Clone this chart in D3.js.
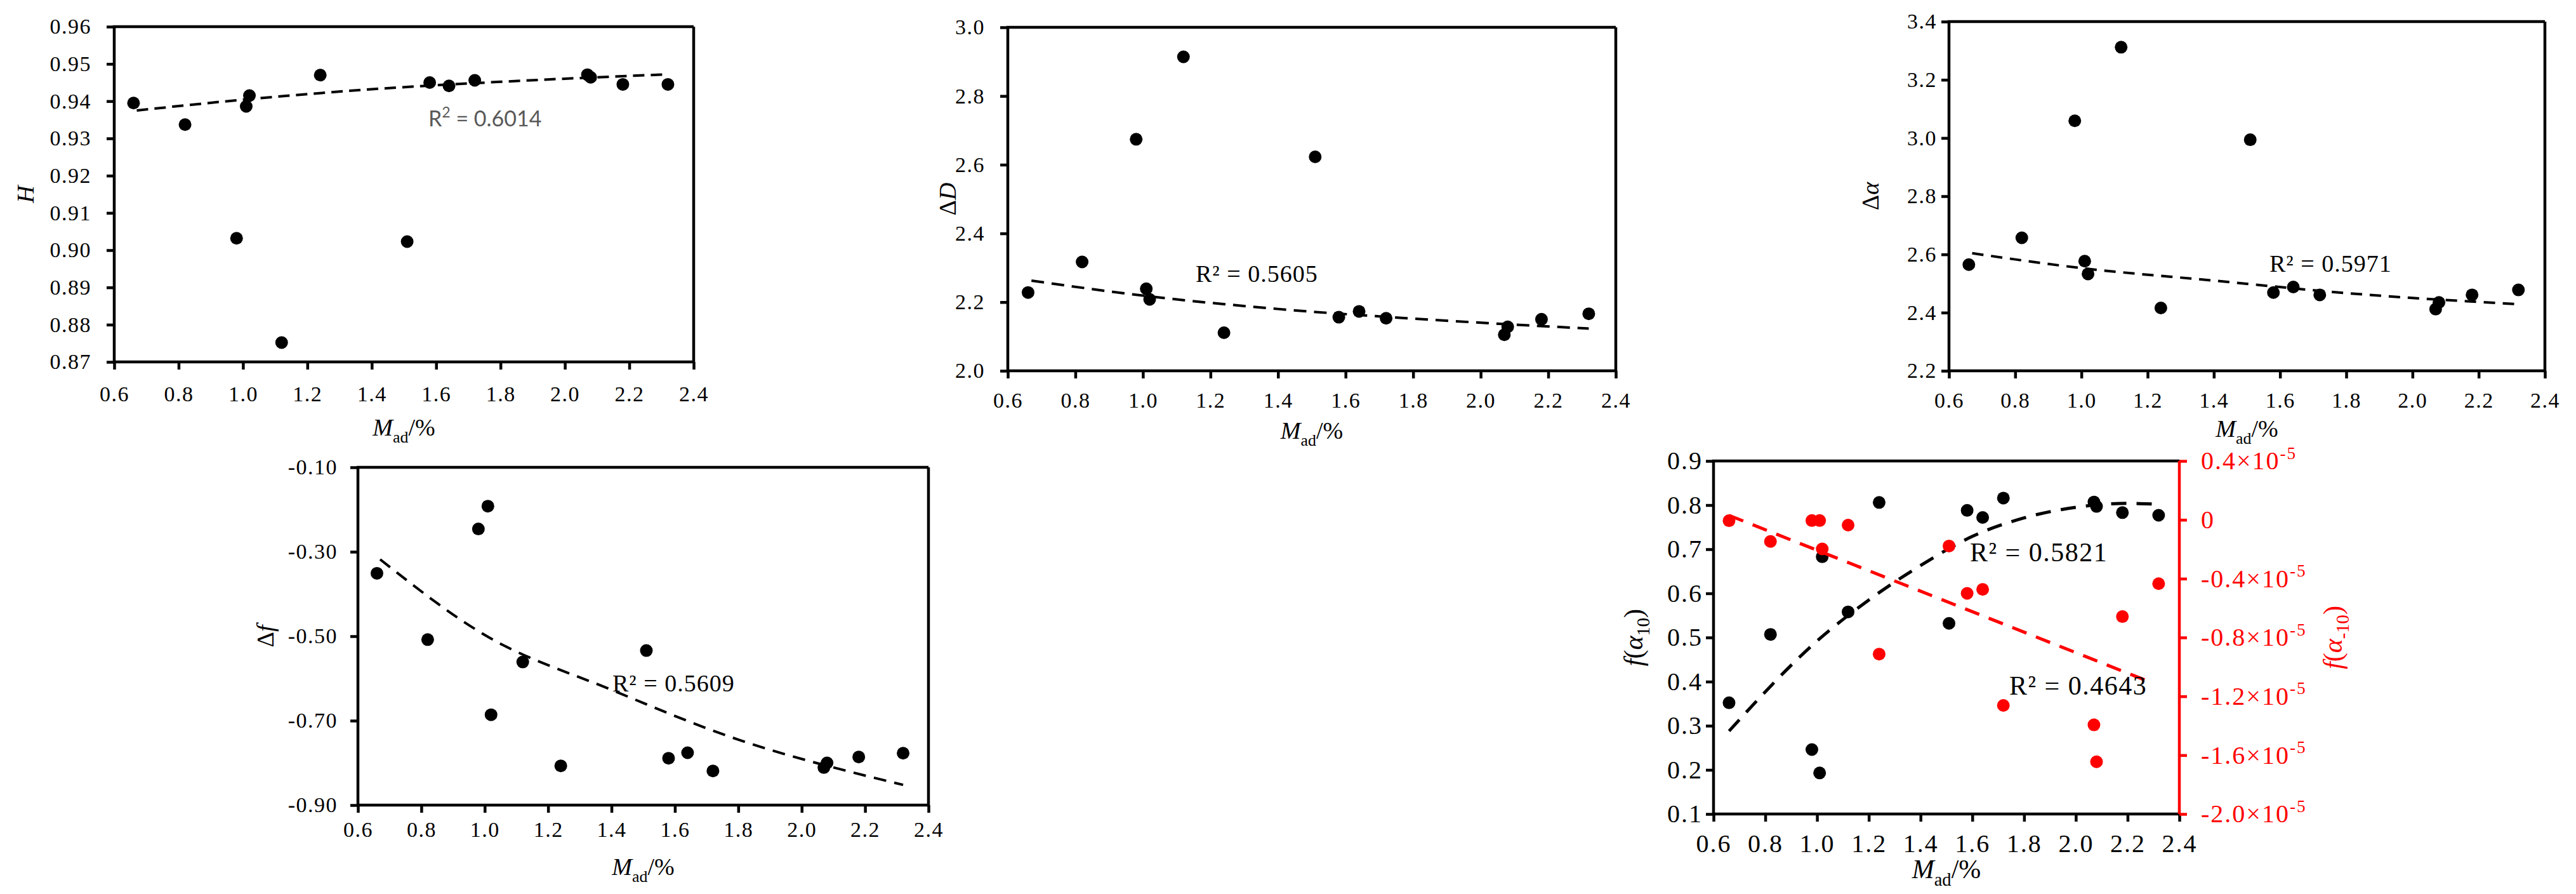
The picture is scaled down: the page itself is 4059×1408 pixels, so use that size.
<!DOCTYPE html>
<html>
<head>
<meta charset="utf-8">
<script src="https://cdn.jsdelivr.net/npm/d3@7"></script>
<style>
  body { margin: 0; background: #fff; }
  svg { display: block; font-family: "Times New Roman", "Liberation Serif", serif; }
</style>
</head>
<body>
<div id="chart"></div>
<script>
const W = 4059, H = 1408;
const SERIF = "'Times New Roman', 'Liberation Serif', serif";

// M_ad (%) of the 15 samples, shared by every panel
const mad = [0.66, 0.82, 0.98, 1.01, 1.02, 1.12, 1.24, 1.51, 1.58, 1.64, 1.72, 2.07, 2.08, 2.18, 2.32];
const hurst = [0.9395, 0.9337, 0.9032, 0.9386, 0.9415, 0.8752, 0.9470, 0.9023, 0.9450, 0.9441, 0.9456, 0.9471, 0.9464, 0.9445, 0.9445];
const deltaD = [2.228, 2.317, 2.674, 2.239, 2.208, 2.914, 2.111, 2.623, 2.156, 2.173, 2.153, 2.105, 2.128, 2.150, 2.166];
const deltaAlpha = [2.565, 2.657, 3.059, 2.577, 2.533, 3.312, 2.416, 2.994, 2.469, 2.488, 2.461, 2.412, 2.435, 2.461, 2.478];
const deltaF = [-0.351, -0.508, -0.246, -0.192, -0.686, -0.561, -0.807, -0.534, -0.789, -0.776, -0.819, -0.811, -0.800, -0.786, -0.777];
const fAlpha10 = [0.352, 0.507, 0.246, 0.193, 0.683, 0.558, 0.806, 0.532, 0.788, 0.772, 0.816, 0.807, 0.797, 0.783, 0.777];
// f(alpha_-10), in units of 1e-5
const fAlphaNeg10 = [-0.006, -0.147, -0.005, -0.005, -0.198, -0.036, -0.913, -0.178, -0.500, -0.473, -1.262, -1.394, -1.645, -0.658, -0.434];

// trend lines
const trendX = [0.67, 1.0, 1.4, 1.8, 2.32];
const trendH = [0.9375, 0.9404, 0.9432, 0.9452, 0.9472];
const trendD = [2.2625, 2.219, 2.180, 2.152, 2.123];
const trendAlpha = [2.604, 2.553, 2.510, 2.467, 2.429];
const trendFX = [0.67, 1.0, 1.4, 1.8, 2.2, 2.32];
const trendF = [-0.318, -0.497, -0.627, -0.745, -0.830, -0.852];
const trendFa10X = [0.66, 1.0, 1.2, 1.4, 1.6, 1.8, 2.0, 2.2, 2.31];
const trendFa10 = [0.288, 0.492, 0.585, 0.663, 0.729, 0.771, 0.795, 0.804, 0.802];
const trendFaNegX = [0.66, 2.29];
const trendFaNeg = [0.03, -1.105];

// ticks
const xTicks = [0.6, 0.8, 1.0, 1.2, 1.4, 1.6, 1.8, 2.0, 2.2, 2.4];
const hTicks = [0.87, 0.88, 0.89, 0.90, 0.91, 0.92, 0.93, 0.94, 0.95, 0.96];
const dTicks = [2.0, 2.2, 2.4, 2.6, 2.8, 3.0];
const alphaTicks = [2.2, 2.4, 2.6, 2.8, 3.0, 3.2, 3.4];
const fTicks = [-0.90, -0.70, -0.50, -0.30, -0.10];
const fa10Ticks = [0.1, 0.2, 0.3, 0.4, 0.5, 0.6, 0.7, 0.8, 0.9];
const faNegTicks = [-2.0, -1.6, -1.2, -0.8, -0.4, 0, 0.4];

const r2Texts = ["0.6014", "0.5605", "0.5971", "0.5609", "0.5821", "0.4643"];

const RED = "#ff0000";
const LW = 4.5;

const svg = d3.select("#chart").append("svg")
  .attr("width", W)
  .attr("height", H);
svg.append("rect").attr("width", W).attr("height", H).attr("fill", "#fff");

const f1 = v => v.toFixed(1);
const f2 = v => v.toFixed(2);

// text made of pieces: {t, i: italic, sub, sup}
function rich(sel, parts, size) {
  let shift = 0;
  parts.forEach(p => {
    const s = p.sub ? size * 0.28 : p.sup ? -size * 0.42 : 0;
    const t = sel.append("tspan").text(p.t);
    if (s !== shift) t.attr("dy", s - shift);
    if (p.i) t.attr("font-style", "italic");
    if (p.sub || p.sup) t.attr("font-size", size * 0.68);
    shift = s;
  });
  return sel;
}

const madLabel = [{ t: "M", i: true }, { t: "ad", sub: true }, { t: "/%" }];

function panel(c) {
  const g = svg.append("g");
  const x = d3.scaleLinear().domain([0.6, 2.4]).range([c.left, c.right]);
  const y = d3.scaleLinear().domain(c.yDomain).range([c.bottom, c.top]);

  const xa = g.append("g")
    .attr("transform", "translate(0," + c.bottom + ")")
    .call(d3.axisBottom(x).tickValues(xTicks).tickFormat(f1).tickSize(12).tickPadding(c.xPad));
  const ya = g.append("g")
    .attr("transform", "translate(" + c.left + ",0)")
    .call(d3.axisLeft(y).tickValues(c.yTicks).tickFormat(c.yFmt).tickSize(12).tickPadding(c.yPad));
  [xa, ya].forEach(a => {
    a.attr("font-family", SERIF);
    a.select(".domain").remove();
    a.selectAll(".tick line").attr("stroke", "#000").attr("stroke-width", LW);
    a.selectAll(".tick text")
      .attr("font-size", c.tickSize)
      .attr("letter-spacing", c.spacing)
      .attr("fill", "#000");
  });

  // frame
  g.append("path")
    .attr("d", `M${c.left},${c.bottom}V${c.top}H${c.right}`)
    .attr("fill", "none").attr("stroke", "#000").attr("stroke-width", LW);
  g.append("path")
    .attr("d", `M${c.left},${c.bottom}H${c.right}`)
    .attr("fill", "none").attr("stroke", "#000").attr("stroke-width", LW);
  if (!c.noRight) {
    g.append("path")
      .attr("d", `M${c.right},${c.top}V${c.bottom}`)
      .attr("fill", "none").attr("stroke", "#000").attr("stroke-width", LW);
  }

  // labels
  rich(g.append("text")
    .attr("x", (c.left + c.right) / 2).attr("y", c.xLabelY)
    .attr("text-anchor", "middle").attr("font-size", c.labelSize), madLabel, c.labelSize);
  rich(g.append("text")
    .attr("transform", `translate(${c.yLabelX},${(c.top + c.bottom) / 2}) rotate(-90)`)
    .attr("text-anchor", "middle").attr("dy", "0.35em")
    .attr("font-size", c.labelSize), c.yLabel, c.labelSize);

  const line = d3.line().x(d => x(d[0])).y(d => y(d[1])).curve(d3.curveMonotoneX);
  g.append("path")
    .datum(d3.zip(c.trendX, c.trendY))
    .attr("d", line)
    .attr("fill", "none").attr("stroke", "#000")
    .attr("stroke-width", c.dashW).attr("stroke-dasharray", c.dash);

  g.selectAll("circle.pt")
    .data(d3.zip(mad, c.values))
    .enter().append("circle")
    .attr("class", "pt")
    .attr("cx", d => x(d[0]))
    .attr("cy", d => y(d[1]))
    .attr("r", 10)
    .attr("fill", "#000");

  return { g, x, y };
}

// H
const p1 = panel({
  left: 180, right: 1093, top: 42, bottom: 570,
  yDomain: [0.87, 0.96], yTicks: hTicks, yFmt: f2,
  values: hurst, trendX: trendX, trendY: trendH,
  xPad: 26, yPad: 24, tickSize: 34, spacing: 1.5, labelSize: 38,
  xLabelY: 686, yLabelX: 40, yLabel: [{ t: "H", i: true }],
  dash: "18,10", dashW: 4
});
rich(p1.g.append("text").attr("x", 675).attr("y", 199)
  .attr("font-family", "Lato, 'Open Sans', sans-serif").attr("font-size", 34).attr("fill", "#595959"),
  [{ t: "R" }, { t: "2", sup: true }, { t: " = " + r2Texts[0] }], 34);

// delta D
const p2 = panel({
  left: 1588, right: 2546, top: 43, bottom: 584,
  yDomain: [2.0, 3.0], yTicks: dTicks, yFmt: f1,
  values: deltaD, trendX: trendX, trendY: trendD,
  xPad: 22, yPad: 24, tickSize: 34, spacing: 1.5, labelSize: 38,
  xLabelY: 691, yLabelX: 1493, yLabel: [{ t: "\u0394" }, { t: "D", i: true }],
  dash: "20,12", dashW: 4
});
p2.g.append("text").attr("x", 1884).attr("y", 444).attr("font-size", 38).attr("letter-spacing", 1)
  .text("R\u00b2 = " + r2Texts[1]);

// delta alpha
const p3 = panel({
  left: 3071, right: 4010, top: 34, bottom: 584,
  yDomain: [2.2, 3.4], yTicks: alphaTicks, yFmt: f1,
  values: deltaAlpha, trendX: trendX, trendY: trendAlpha,
  xPad: 22, yPad: 7, tickSize: 34, spacing: 1.5, labelSize: 38,
  xLabelY: 688, yLabelX: 2947, yLabel: [{ t: "\u0394" }, { t: "\u03b1", i: true }],
  dash: "18,12", dashW: 4
});
p3.g.append("text").attr("x", 3576).attr("y", 428).attr("font-size", 38).attr("letter-spacing", 1)
  .text("R\u00b2 = " + r2Texts[2]);

// delta f
const p4 = panel({
  left: 564, right: 1463, top: 736, bottom: 1268,
  yDomain: [-0.9, -0.1], yTicks: fTicks, yFmt: v => v.toFixed(2),
  values: deltaF, trendX: trendFX, trendY: trendF,
  xPad: 14, yPad: 20, tickSize: 34, spacing: 1.5, labelSize: 38,
  xLabelY: 1378, yLabelX: 418, yLabel: [{ t: "\u0394" }, { t: "f", i: true }],
  dash: "20,13", dashW: 4
});
p4.g.append("text").attr("x", 965).attr("y", 1089).attr("font-size", 38).attr("letter-spacing", 1)
  .text("R\u00b2 = " + r2Texts[3]);

// f(alpha_10) and f(alpha_-10)
const p5 = panel({
  left: 2700, right: 3434, top: 726, bottom: 1282,
  yDomain: [0.1, 0.9], yTicks: fa10Ticks, yFmt: f1,
  values: fAlpha10, trendX: trendFa10X, trendY: trendFa10,
  xPad: 20, yPad: 5, tickSize: 40, spacing: 2, labelSize: 42,
  xLabelY: 1383, yLabelX: 2573,
  yLabel: [{ t: "f", i: true }, { t: "(" }, { t: "\u03b1", i: true }, { t: "10", sub: true }, { t: ")" }],
  dash: "24,16", dashW: 5, noRight: true
});
const yR = d3.scaleLinear().domain([-2.0, 0.4]).range([1282, 726]);
const ra = p5.g.append("g")
  .attr("transform", "translate(3434,0)")
  .call(d3.axisRight(yR).tickValues(faNegTicks).tickFormat("").tickSize(12).tickPadding(22));
ra.attr("font-family", SERIF);
ra.select(".domain").remove();
ra.selectAll(".tick line").attr("stroke", RED).attr("stroke-width", LW);
ra.selectAll(".tick text")
  .attr("font-size", 40)
  .attr("letter-spacing", 2)
  .attr("fill", RED)
  .each(function (d) {
    const t = d3.select(this);
    if (d === 0) t.append("tspan").text("0");
    else rich(t, [{ t: d.toFixed(1) + "\u00d710" }, { t: "-5", sup: true }], 40);
  });
p5.g.append("path")
  .attr("d", "M3434,726V1282")
  .attr("stroke", RED).attr("stroke-width", LW);
rich(p5.g.append("text")
  .attr("transform", "translate(3675,1004) rotate(-90)")
  .attr("text-anchor", "middle").attr("dy", "0.35em")
  .attr("font-size", 42).attr("fill", RED),
  [{ t: "f", i: true }, { t: "(" }, { t: "\u03b1", i: true }, { t: "-10", sub: true }, { t: ")" }], 42);

const redLine = d3.line().x(d => p5.x(d[0])).y(d => yR(d[1]));
p5.g.append("path")
  .datum(d3.zip(trendFaNegX, trendFaNeg))
  .attr("d", redLine)
  .attr("fill", "none").attr("stroke", RED)
  .attr("stroke-width", 5).attr("stroke-dasharray", "24,16");
p5.g.selectAll("circle.red")
  .data(d3.zip(mad, fAlphaNeg10))
  .enter().append("circle")
  .attr("class", "red")
  .attr("cx", d => p5.x(d[0]))
  .attr("cy", d => yR(d[1]))
  .attr("r", 10)
  .attr("fill", RED);

p5.g.append("text").attr("x", 3104).attr("y", 884).attr("font-size", 42).attr("letter-spacing", 1.5)
  .text("R\u00b2 = " + r2Texts[4]);
p5.g.append("text").attr("x", 3166).attr("y", 1094).attr("font-size", 42).attr("letter-spacing", 1.5)
  .text("R\u00b2 = " + r2Texts[5]);
</script>
</body>
</html>
